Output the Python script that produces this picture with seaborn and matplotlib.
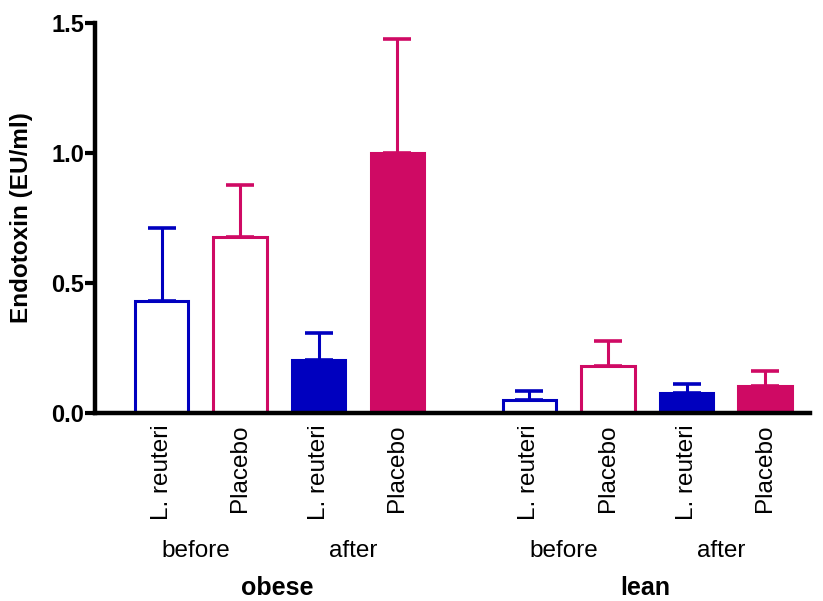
import matplotlib
matplotlib.use("Agg")
import matplotlib.pyplot as plt
import matplotlib.transforms as mtransforms
import seaborn as sns
import pandas as pd
import numpy as np

# ---- data ----
bar_ids = ["ob-before-L", "ob-before-P", "ob-after-L", "ob-after-P",
           "le-before-L", "le-before-P", "le-after-L", "le-after-P"]
tick_labels = ["L. reuteri", "Placebo", "L. reuteri", "Placebo",
               "L. reuteri", "Placebo", "L. reuteri", "Placebo"]
positions = [0, 1, 2, 3, 4.68, 5.68, 6.68, 7.68]
means = [0.43, 0.677, 0.204, 1.00, 0.05, 0.18, 0.077, 0.104]
sem_upper = [0.28, 0.20, 0.104, 0.438, 0.035, 0.097, 0.033, 0.056]
filled = [False, False, True, True, False, False, True, True]
period_labels = ["before", "after", "before", "after"]
group_labels = ["obese", "lean"]

BLUE = "#0000BF"
MAG = "#CF0A64"
colors = [BLUE, MAG, BLUE, MAG, BLUE, MAG, BLUE, MAG]

df = pd.DataFrame({"pos": positions, "val": means, "id": bar_ids})

sns.set_style("white")
plt.rcParams["font.family"] = ["Liberation Sans", "DejaVu Sans"]
plt.rcParams["text.color"] = "black"
plt.rcParams["axes.labelcolor"] = "black"
plt.rcParams["xtick.color"] = "black"
plt.rcParams["ytick.color"] = "black"

fig = plt.figure(figsize=(8.23, 6.01), dpi=100)
ax = fig.add_axes([95 / 823, 1 - 413 / 601, (810 - 95) / 823, 390 / 601])

sns.barplot(data=df, x="pos", y="val", hue="id", palette=dict(zip(bar_ids, colors)),
            native_scale=True, dodge=False, width=0.68, errorbar=None,
            legend=False, ax=ax)

for p in ax.patches:
    cx = p.get_x() + p.get_width() / 2
    i = int(np.argmin([abs(cx - q) for q in positions]))
    p.set_edgecolor(colors[i])
    p.set_linewidth(2.2)
    p.set_facecolor(colors[i] if filled[i] else "white")
    p.set_zorder(2)

for i in range(len(positions)):
    ax.errorbar([positions[i]], [means[i]], yerr=[[0], [sem_upper[i]]], fmt="none",
                ecolor=colors[i], elinewidth=2.2, capsize=10, capthick=2.6,
                zorder=1, clip_on=False)

ax.set_xlim(-0.846, 8.25)
ax.set_ylim(0, 1.5)
ax.set_yticks([0, 0.5, 1.0, 1.5])
ax.set_yticklabels(["0.0", "0.5", "1.0", "1.5"], fontsize=17, fontweight="bold")
ax.set_xticks(positions)
ax.set_xticklabels(tick_labels, rotation=90, fontsize=17.5)
ax.tick_params(axis="x", length=0, pad=8)
ax.tick_params(axis="y", length=7, width=3, pad=1, direction="out", left=True)
ax.set_xlabel("")
ax.set_ylabel("Endotoxin (EU/ml)", fontsize=17.5, fontweight="bold")
ax.yaxis.set_label_coords(-0.0867, 0.5)

for s in ["top", "right"]:
    ax.spines[s].set_visible(False)
for s in ["left", "bottom"]:
    ax.spines[s].set_linewidth(3.2)
    ax.spines[s].set_color("black")
    ax.spines[s].set_zorder(5)

trans = mtransforms.blended_transform_factory(ax.transData, ax.transAxes)
pairs = [(0, 1), (2, 3), (4, 5), (6, 7)]
for (a, b), lab in zip(pairs, period_labels):
    ax.text((positions[a] + positions[b]) / 2 - 0.06, -0.354, lab, transform=trans,
            ha="center", va="center", fontsize=17.5)
for (a, b), lab in zip([(1, 2), (5, 6)], group_labels):
    ax.text((positions[a] + positions[b]) / 2 - 0.03, -0.449, lab, transform=trans,
            ha="center", va="center", fontsize=18, fontweight="bold")

fig.savefig("out.png", dpi=100)
